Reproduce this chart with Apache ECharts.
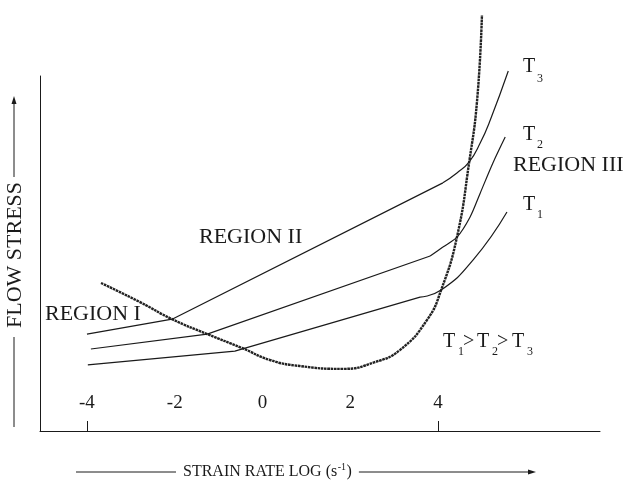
<!DOCTYPE html>
<html>
<head>
<meta charset="utf-8">
<script src="https://cdn.jsdelivr.net/npm/echarts@6/dist/echarts.min.js"></script>
<style>
  html, body { margin: 0; padding: 0; background: #ffffff; }
  #chart { width: 629px; height: 481px; }
</style>
</head>
<body>
<div id="chart"></div>
<script>
// Flow stress vs. log strain rate: three isotherms (T1 > T2 > T3)
// crossing the boundary curve that separates regions I, II and III.

const xTickLabels = [-4, -2, 0, 2, 4];
const xTickMarks = [-4, 4];

// thick boundary curve  [log strain rate, flow stress]
const boundary = [
  [-3.68, 41.7], [-2.79, 36.3], [-2.06, 31.5], [-1.26, 27.3], [-0.47, 23.4],
  [0.17, 20.0], [0.85, 18.3], [1.83, 17.5], [2.56, 19.4], [3.13, 22.8],
  [3.75, 31.3], [4.07, 39.7], [4.43, 54.6], [4.71, 75.8], [4.89, 93.2], [5.00, 117.2]
];

// isotherm T3: regions I and II (straight) then region III (rising)
const t3Linear = [[-4.00, 27.3], [-2.06, 31.5], [4.11, 69.9]];
const t3Rise = [[4.11, 69.9], [4.43, 72.7], [4.71, 75.8], [4.96, 81.1], [5.19, 87.6], [5.60, 101.4]];

// isotherm T2
const t2Linear = [[-3.91, 23.1], [-1.26, 27.3], [3.82, 49.3]];
const t2Rise = [[3.82, 49.3], [4.11, 51.8], [4.43, 54.6], [4.73, 60.3], [4.96, 67.0], [5.25, 75.5], [5.53, 82.8]];

// isotherm T1
const t1Linear = [[-3.98, 18.6], [-0.63, 22.5], [3.59, 37.7]];
const t1Rise = [[3.59, 37.7], [4.07, 39.7], [4.80, 48.2], [5.57, 61.7]];

const SERIF = '"Liberation Serif", "Times New Roman", serif';
const INK = '#1a1a1a';

const chart = echarts.init(document.getElementById('chart'), null, { renderer: 'canvas' });

function lineSeries(name, data, smooth, style) {
  return {
    name: name,
    type: 'line',
    data: data,
    smooth: smooth,
    showSymbol: false,
    symbol: 'none',
    clip: false,
    silent: true,
    animation: false,
    lineStyle: Object.assign({ color: INK, width: 1.2 }, style || {})
  };
}

// text piece, vertically centred on y
function txt(x, y, text, size) {
  return {
    type: 'text',
    x: x, y: y,
    silent: true,
    style: {
      text: text,
      fill: INK,
      font: size + 'px ' + SERIF,
      align: 'left',
      verticalAlign: 'middle'
    }
  };
}

function seg(x1, y1, x2, y2) {
  return {
    type: 'line',
    silent: true,
    shape: { x1: x1, y1: y1, x2: x2, y2: y2 },
    style: { stroke: INK, lineWidth: 1 }
  };
}

function tri(points) {
  return { type: 'polygon', silent: true, shape: { points: points }, style: { fill: INK } };
}

// measure text for the horizontal axis title
const measureCtx = document.createElement('canvas').getContext('2d');
function textWidth(text, size) {
  measureCtx.font = size + 'px ' + SERIF;
  return measureCtx.measureText(text).width;
}

const xTitleMain = 'STRAIN RATE LOG (s';
const xTitleSup = '-1';
const xTitleEnd = ')';
const xTitleSize = 16;
const xTitleLeft = 183;
const xTitleY = 472;
const wMain = textWidth(xTitleMain, xTitleSize);
const wSup = textWidth(xTitleSup, 10);
const wEnd = textWidth(xTitleEnd, xTitleSize);
const xTitleRight = xTitleLeft + wMain + wSup + 1 + wEnd;

const graphics = [
  // vertical axis title with rule and arrow
  {
    type: 'text',
    x: 15.5, y: 255,
    rotation: Math.PI / 2,
    silent: true,
    style: {
      text: 'FLOW STRESS',
      fill: INK,
      font: '22px ' + SERIF,
      align: 'center',
      verticalAlign: 'middle'
    }
  },
  seg(14, 337, 14, 427),
  seg(14, 177, 14, 103),
  tri([[14, 96], [11.5, 104], [16.5, 104]]),

  // horizontal axis title with rule and arrow
  txt(xTitleLeft, xTitleY, xTitleMain, xTitleSize),
  txt(xTitleLeft + wMain + 0.5, xTitleY - 5, xTitleSup, 10),
  txt(xTitleLeft + wMain + wSup + 1, xTitleY, xTitleEnd, xTitleSize),
  seg(76, 472, xTitleLeft - 7, 472),
  seg(xTitleRight + 7, 472, 530, 472),
  tri([[536, 472], [528, 469.5], [528, 474.5]]),

  // region labels
  txt(45, 314, 'REGION I', 22),
  txt(199, 237, 'REGION II', 22),
  txt(513, 165, 'REGION III', 22),

  // isotherm labels
  txt(523, 67, 'T', 20), txt(537, 78.5, '3', 12),
  txt(523, 135, 'T', 20), txt(537, 145, '2', 12),
  txt(523, 205, 'T', 20), txt(537, 215, '1', 12),

  // T1 > T2 > T3
  txt(443, 341.5, 'T', 20), txt(458, 352, '1', 12),
  txt(463, 341.5, '>', 20),
  txt(477, 341.5, 'T', 20), txt(492, 352, '2', 12),
  txt(497, 341.5, '>', 20),
  txt(512, 341.5, 'T', 20), txt(527, 352, '3', 12)
];

const option = {
  backgroundColor: '#ffffff',
  animation: false,
  grid: { left: 40, right: 29, top: 76, bottom: 50, containLabel: false, outerBoundsMode: 'none' },
  xAxis: {
    type: 'value',
    min: -5.07,
    max: 7.69,
    splitLine: { show: false },
    axisLine: { show: true, onZero: false, lineStyle: { color: INK, width: 1 } },
    axisTick: { show: true, inside: true, length: 10, customValues: xTickMarks, lineStyle: { color: INK, width: 1 } },
    axisLabel: {
      show: true,
      inside: true,
      margin: 18,
      customValues: xTickLabels,
      color: INK,
      fontFamily: SERIF,
      fontSize: 19
    }
  },
  yAxis: {
    type: 'value',
    min: 0,
    max: 100,
    splitLine: { show: false },
    axisLine: { show: true, onZero: false, lineStyle: { color: INK, width: 1 } },
    axisTick: { show: false },
    axisLabel: { show: false }
  },
  series: [
    lineSeries('boundary', boundary, 0.5, { color: '#222222', width: 2.4, type: [2.6, 0.7] }),
    lineSeries('T3', t3Linear, false),
    lineSeries('T3 rise', t3Rise, 0.5),
    lineSeries('T2', t2Linear, false),
    lineSeries('T2 rise', t2Rise, 0.3),
    lineSeries('T1', t1Linear, false),
    lineSeries('T1 rise', t1Rise, 0.5)
  ],
  graphic: graphics
};

chart.setOption(option);
</script>
</body>
</html>
